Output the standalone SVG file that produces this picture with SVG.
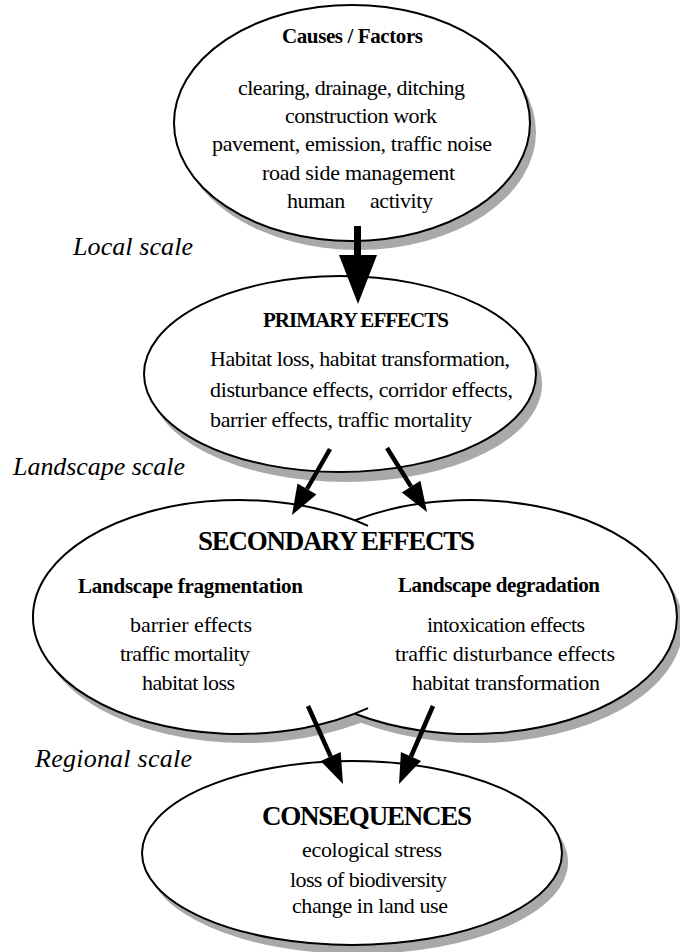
<svg xmlns="http://www.w3.org/2000/svg" width="680" height="952" viewBox="0 0 680 952">
<style>
.shadow{fill:#a9a9a9;stroke:none}
.node{fill:#ffffff;stroke:#000000;stroke-width:2}
.fill{fill:#ffffff;stroke:none}
.edge{fill:none;stroke:#000000;stroke-width:2}
text{font-family:"Liberation Serif","Times New Roman",serif;fill:#000000}
.t{font-size:22px}
.b{font-size:21px;font-weight:bold}
.h{font-size:27px;font-weight:bold}
.i{font-size:26px;font-style:italic}
.shaft{stroke:#000000;fill:none}
.head{fill:#000000;stroke:none}
</style>
<rect x="0" y="0" width="680" height="952" fill="#ffffff"/>

<g id="scale-labels">
<text class="i" x="73" y="255" textLength="120">Local scale</text>
<text class="i" x="13" y="475" textLength="172">Landscape scale</text>
<text class="i" x="35" y="767" textLength="157">Regional scale</text>
</g>

<g id="causes">
<ellipse class="shadow" cx="358" cy="132" rx="178" ry="118"/>
<ellipse class="node" cx="352" cy="123" rx="178" ry="118"/>
<text class="b" x="282" y="43" textLength="141">Causes / Factors</text>
<text class="t" x="238" y="95" textLength="227">clearing, drainage, ditching</text>
<text class="t" x="285" y="123" textLength="152">construction work</text>
<text class="t" x="212" y="151" textLength="280">pavement, emission, traffic noise</text>
<text class="t" x="262" y="180" textLength="193">road side management</text>
<text class="t" x="287" y="208" textLength="146" xml:space="preserve">human     activity</text>
</g>

<g id="primary">
<ellipse class="shadow" cx="346" cy="384" rx="196" ry="98"/>
<ellipse class="node" cx="340" cy="374" rx="196" ry="98"/>
<text class="b" x="263" y="327" textLength="186">PRIMARY EFFECTS</text>
<text class="t" x="210" y="366" textLength="300">Habitat loss, habitat transformation,</text>
<text class="t" x="210" y="397" textLength="303">disturbance effects, corridor effects,</text>
<text class="t" x="210" y="427" textLength="262">barrier effects, traffic mortality</text>
</g>

<g id="secondary">
<ellipse class="shadow" cx="245" cy="626" rx="206" ry="117"/>
<ellipse class="shadow" cx="477" cy="626" rx="206" ry="117"/>
<ellipse class="fill" cx="239" cy="617" rx="206" ry="117"/>
<ellipse class="fill" cx="471" cy="617" rx="206" ry="117"/>
<path class="edge" d="M 368 525.8 A 206 117 0 1 0 368 708.2"/>
<path class="edge" d="M 355 520.3 A 206 117 0 1 1 355 713.7"/>
<text class="h" x="198" y="550" textLength="277">SECONDARY EFFECTS</text>
<text class="b" x="78" y="593" textLength="225">Landscape fragmentation</text>
<text class="t" x="130" y="632" textLength="122">barrier effects</text>
<text class="t" x="120" y="661" textLength="130">traffic mortality</text>
<text class="t" x="142" y="690" textLength="93">habitat loss</text>
<text class="b" x="398" y="592" textLength="202">Landscape degradation</text>
<text class="t" x="427" y="632" textLength="158">intoxication effects</text>
<text class="t" x="395" y="661" textLength="220">traffic disturbance effects</text>
<text class="t" x="412" y="690" textLength="188">habitat transformation</text>
</g>

<g id="consequences">
<ellipse class="shadow" cx="358" cy="862" rx="210" ry="92"/>
<ellipse class="node" cx="352" cy="853" rx="210" ry="92"/>
<text class="h" x="262" y="825" textLength="210">CONSEQUENCES</text>
<text class="t" x="302" y="857" textLength="140">ecological stress</text>
<text class="t" x="290" y="887" textLength="157">loss of biodiversity</text>
<text class="t" x="292" y="913" textLength="156">change in land use</text>
</g>

<g id="connectors">
<line class="shaft" x1="357.5" y1="226" x2="357.5" y2="258" stroke-width="7"/>
<polygon class="head" points="339,255 377,255 358,304"/>
<line class="shaft" x1="330" y1="449" x2="307" y2="489" stroke-width="4.5"/>
<polygon class="head" points="316.5,494.5 297.5,483.5 292,515"/>
<line class="shaft" x1="387" y1="448" x2="411.1" y2="486.6" stroke-width="4.5"/>
<polygon class="head" points="420.4,480.8 401.8,492.4 427,512"/>
<line class="shaft" x1="308" y1="706" x2="330.7" y2="756.6" stroke-width="4.5"/>
<polygon class="head" points="340.7,752.1 320.7,761.1 343,784"/>
<line class="shaft" x1="433" y1="706" x2="411" y2="756.5" stroke-width="4.5"/>
<polygon class="head" points="421.1,760.9 400.9,752.1 399,784"/>
</g>
</svg>
